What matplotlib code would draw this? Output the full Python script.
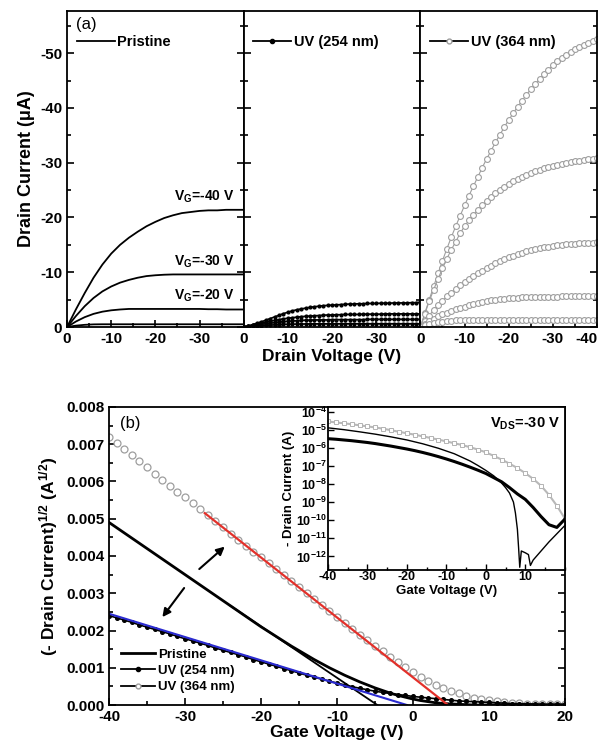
import numpy as np
import matplotlib
matplotlib.use('Agg')
import matplotlib.pyplot as plt
from matplotlib.ticker import MultipleLocator, FormatStrFormatter, FixedLocator, FuncFormatter
from matplotlib.lines import Line2D

plt.rcParams['font.family'] = ['Liberation Sans', 'DejaVu Sans']
plt.rcParams['font.weight'] = 'bold'
plt.rcParams['axes.unicode_minus'] = False
plt.rcParams['mathtext.fontset'] = 'custom'
plt.rcParams['mathtext.rm'] = 'Liberation Sans:bold'
plt.rcParams['mathtext.bf'] = 'Liberation Sans:bold'
plt.rcParams['mathtext.it'] = 'Liberation Sans:bold'
plt.rcParams['axes.linewidth'] = 1.3

# ---- (a) output curves, drain current in uA ----
vd_pr = np.arange(0, -41, -2)
pr_m40 = [0, -3.2, -6.2, -9.0, -11.4, -13.4, -15.0, -16.3, -17.4, -18.4, -19.2,
          -19.9, -20.4, -20.8, -21.0, -21.2, -21.3, -21.3, -21.4, -21.4, -21.4]
pr_m30 = [0, -2.0, -3.8, -5.3, -6.5, -7.4, -8.1, -8.6, -9.0, -9.3, -9.45,
          -9.55, -9.6, -9.6, -9.6, -9.6, -9.6, -9.6, -9.6, -9.6, -9.6]
pr_m20 = [0, -1.0, -1.8, -2.4, -2.8, -3.05, -3.2, -3.3, -3.3, -3.3, -3.3,
          -3.3, -3.3, -3.3, -3.3, -3.3, -3.25, -3.25, -3.2, -3.2, -3.2]
pr_m10 = [0, -0.25, -0.4, -0.48, -0.5, -0.5, -0.5, -0.5, -0.5, -0.5, -0.5,
          -0.5, -0.5, -0.5, -0.5, -0.5, -0.5, -0.5, -0.5, -0.5, -0.5]

vd_uv = np.arange(0, -41, -1)
uv1_a = [0, -0.2, -0.45, -0.7, -0.95, -1.25, -1.55, -1.85, -2.15, -2.45,
         -2.7, -2.95, -3.15, -3.3, -3.45, -3.6, -3.7, -3.8, -3.9, -3.95,
         -4.0, -4.05, -4.1, -4.15, -4.2, -4.2, -4.25, -4.25, -4.3, -4.3,
         -4.3, -4.35, -4.35, -4.35, -4.4, -4.4, -4.4, -4.4, -4.45, -4.45, -4.5]
uv1_b = [0, -0.15, -0.3, -0.5, -0.7, -0.9, -1.05, -1.2, -1.35, -1.5,
         -1.6, -1.7, -1.8, -1.9, -1.95, -2.0, -2.05, -2.1, -2.15, -2.2,
         -2.2, -2.25, -2.25, -2.3, -2.3, -2.3, -2.3, -2.35, -2.35, -2.35,
         -2.35, -2.35, -2.4, -2.4, -2.4, -2.4, -2.4, -2.4, -2.4, -2.4, -2.4]
uv1_c = [0, -0.1, -0.2, -0.35, -0.5, -0.6, -0.7, -0.8, -0.9, -1.0,
         -1.05, -1.1, -1.15, -1.2, -1.25, -1.25, -1.3, -1.3, -1.3, -1.3,
         -1.35, -1.35, -1.35, -1.35, -1.35, -1.35, -1.35, -1.35, -1.4, -1.4,
         -1.4, -1.4, -1.4, -1.4, -1.4, -1.4, -1.4, -1.4, -1.4, -1.4, -1.4]
uv1_d = [0, -0.05, -0.1, -0.18, -0.25, -0.3, -0.35, -0.4, -0.45, -0.48,
         -0.5, -0.52, -0.54, -0.55, -0.56, -0.57, -0.58, -0.58, -0.58, -0.59,
         -0.59, -0.59, -0.6, -0.6, -0.6, -0.6, -0.6, -0.6, -0.6, -0.6,
         -0.6, -0.6, -0.6, -0.6, -0.6, -0.6, -0.6, -0.6, -0.6, -0.6, -0.6]

uv3_a = [0, -2.5, -5.0, -7.4, -9.8, -12.1, -14.3, -16.4, -18.4, -20.3,
         -22.2, -24.0, -25.7, -27.4, -29.1, -30.7, -32.2, -33.7, -35.1, -36.5,
         -37.8, -39.0, -40.2, -41.3, -42.4, -43.4, -44.4, -45.3, -46.2, -47.0,
         -47.8, -48.5, -49.1, -49.7, -50.2, -50.7, -51.1, -51.5, -51.9, -52.2, -52.5]
uv3_b = [0, -2.4, -4.7, -6.8, -8.8, -10.7, -12.5, -14.1, -15.6, -17.1,
         -18.4, -19.5, -20.5, -21.4, -22.2, -23.0, -23.7, -24.4, -25.0, -25.6,
         -26.1, -26.6, -27.0, -27.4, -27.8, -28.1, -28.4, -28.7, -29.0, -29.2,
         -29.4, -29.6, -29.8, -30.0, -30.1, -30.3, -30.4, -30.5, -30.6, -30.7, -30.8]
uv3_c = [0, -1.1, -2.1, -3.1, -4.0, -4.8, -5.6, -6.3, -7.0, -7.6,
         -8.2, -8.8, -9.3, -9.8, -10.3, -10.8, -11.2, -11.6, -12.0, -12.4,
         -12.7, -13.0, -13.3, -13.6, -13.8, -14.0, -14.2, -14.4, -14.6, -14.7,
         -14.8, -14.9, -15.0, -15.1, -15.2, -15.2, -15.3, -15.3, -15.4, -15.4, -15.5]
uv3_d = [0, -0.55, -1.05, -1.5, -1.95, -2.3, -2.65, -3.0, -3.25, -3.5,
         -3.7, -3.95, -4.2, -4.4, -4.6, -4.75, -4.9, -5.0, -5.1, -5.2,
         -5.25, -5.3, -5.35, -5.4, -5.4, -5.45, -5.45, -5.5, -5.5, -5.5,
         -5.55, -5.55, -5.6, -5.6, -5.6, -5.65, -5.65, -5.65, -5.7, -5.7, -5.7]
uv3_e = [0, -0.3, -0.55, -0.75, -0.9, -1.0, -1.1, -1.15, -1.2, -1.2,
         -1.25, -1.25, -1.25, -1.25, -1.25, -1.3, -1.3, -1.3, -1.3, -1.3,
         -1.3, -1.3, -1.3, -1.3, -1.3, -1.3, -1.3, -1.3, -1.3, -1.3,
         -1.35, -1.35, -1.35, -1.35, -1.35, -1.35, -1.35, -1.35, -1.35, -1.35, -1.35]

vg_labels = ['-40', '-30', '-20']
vg_label_y = [-22.3, -10.5, -4.2]

# ---- (b) transfer curves, sqrt(-Id) ----
vg = np.arange(-40, 21, 1)
sq_pristine = [0.00490, 0.00476, 0.00462, 0.00448, 0.00434, 0.00420, 0.00406, 0.00392, 0.00378, 0.00364,
               0.00350, 0.00336, 0.00322, 0.00308, 0.00294, 0.00280, 0.00266, 0.00252, 0.00238, 0.00224,
               0.00210, 0.00197, 0.00184, 0.00171, 0.00158, 0.00146, 0.00134, 0.00122, 0.00111, 0.00100,
               0.00090, 0.00080, 0.00071, 0.00062, 0.00054, 0.00046, 0.00039, 0.00032, 0.00026, 0.00021,
               0.00016, 0.00012, 0.00009, 0.00006, 0.00004, 0.00003, 0.00002, 0.00001, 0.0, 0.0,
               0.0, 0.0, 0.0, 0.0, 0.0, 0.0, 0.0, 0.0, 0.0, 0.0,
               0.0]
sq_uv254 = [0.00240, 0.00234, 0.00228, 0.00222, 0.00215, 0.00209, 0.00203, 0.00197, 0.00191, 0.00184,
            0.00178, 0.00172, 0.00166, 0.00160, 0.00153, 0.00147, 0.00141, 0.00135, 0.00129, 0.00122,
            0.00116, 0.00110, 0.00104, 0.00098, 0.00092, 0.00086, 0.00080, 0.00075, 0.00069, 0.00064,
            0.00059, 0.00054, 0.00049, 0.00045, 0.00041, 0.00037, 0.00034, 0.00031, 0.00028, 0.00026,
            0.00023, 0.00021, 0.00019, 0.00017, 0.00015, 0.00013, 0.00011, 0.00010, 0.00009, 0.00008,
            0.00007, 0.00006, 0.00005, 0.00004, 0.00004, 0.00003, 0.00003, 0.00002, 0.00002, 0.00002,
            0.00002]
sq_uv364 = [0.00718, 0.00702, 0.00686, 0.00670, 0.00654, 0.00638, 0.00621, 0.00605, 0.00589, 0.00573,
            0.00557, 0.00541, 0.00525, 0.00509, 0.00493, 0.00477, 0.00460, 0.00444, 0.00428, 0.00412,
            0.00396, 0.00380, 0.00364, 0.00348, 0.00332, 0.00316, 0.00300, 0.00284, 0.00268, 0.00252,
            0.00236, 0.00220, 0.00205, 0.00189, 0.00174, 0.00159, 0.00144, 0.00129, 0.00115, 0.00101,
            0.00088, 0.00076, 0.00065, 0.00055, 0.00046, 0.00038, 0.00031, 0.00025, 0.00020, 0.00016,
            0.00013, 0.00010, 0.00008, 0.00006, 0.00005, 0.00004, 0.00003, 0.00003, 0.00002, 0.00002,
            0.00002]
fit_pr_x = [-24, -4.7]
fit_pr_y = [0.00266, 0.0]
fit_uv254_x = [-40, -0.8]
fit_uv254_y = [0.00245, 0.0]
fit_uv364_x = [-27.4, 4.6]
fit_uv364_y = [0.00515, 0.0]

# ---- inset: log10(-Id) ----
vg_in = np.arange(-40, 21, 2)
log_uv364 = [-4.55, -4.6, -4.65, -4.7, -4.76, -4.82, -4.88, -4.95, -5.03, -5.12,
             -5.2, -5.28, -5.37, -5.46, -5.55, -5.65, -5.75, -5.85, -5.97, -6.1,
             -6.25, -6.45, -6.65, -6.88, -7.12, -7.4, -7.72, -8.1, -8.6, -9.2,
             -9.9]
log_uv254 = [-5.5, -5.53, -5.57, -5.61, -5.66, -5.71, -5.77, -5.84, -5.91, -5.99,
             -6.07, -6.16, -6.26, -6.37, -6.49, -6.62, -6.76, -6.91, -7.07, -7.24,
             -7.42, -7.65, -7.88, -8.2, -8.55, -8.85, -9.3, -9.8, -10.25, -10.4,
             -9.95]
vg_pr_in = [-40, -36, -32, -28, -24, -20, -16, -12, -8, -4, -2, 0, 2, 4, 5, 6, 7, 7.5, 8,
            8.3, 8.6, 9, 10, 10.8, 11.3, 12, 14, 16, 18, 20]
log_pr_in = [-4.9, -5.0, -5.12, -5.25, -5.4, -5.57, -5.78, -6.03, -6.33, -6.73, -6.98, -7.25,
             -7.55, -7.95, -8.2, -8.5, -9.0, -9.6, -10.5, -11.5, -12.6, -11.7, -11.8, -11.9,
             -12.5, -12.2, -11.7, -11.2, -10.75, -10.3]

gray = '0.62'


def style(ax, right=True):
    ax.tick_params(which='both', direction='in', top=False, right=right,
                   labelsize=11, width=1.2)
    ax.tick_params(which='major', length=5)
    ax.tick_params(which='minor', length=3)


fig = plt.figure(figsize=(6.04, 7.49), dpi=100)

# ---------------- panel (a) ----------------
x0, w, b0, h = 0.111, 0.2925, 0.5634, 0.4219
axes = [fig.add_axes([x0 + i * w, b0, w, h]) for i in range(3)]

for i, ax in enumerate(axes):
    ax.set_xlim(0, -40)
    ax.set_ylim(0, -57.7)
    ax.set_xticks([0, -10, -20, -30, -40])
    if i < 2:
        ax.set_xticklabels(['0', '-10', '-20', '-30', ''])
    else:
        ax.set_xticklabels(['0', '-10', '-20', '-30', '-40'])
        ax.get_xticklabels()[-1].set_horizontalalignment('right')
    ax.xaxis.set_minor_locator(MultipleLocator(5))
    ax.yaxis.set_major_locator(MultipleLocator(10))
    ax.yaxis.set_minor_locator(MultipleLocator(5))
    style(ax)
    if i > 0:
        ax.set_yticklabels([])

a0, a1, a2 = axes
for yy in [pr_m40, pr_m30, pr_m20, pr_m10]:
    a0.plot(vd_pr, yy, color='k', lw=1.3)
for lab, ly in zip(vg_labels, vg_label_y):
    a0.text(-38, ly, r'V$_{\mathbf{G}}$=' + lab + ' V', ha='right', va='bottom',
            fontsize=10, fontweight='bold')
a0.text(-2, -55.3, '(a)', fontsize=12, fontweight='normal', va='center')
a0.legend([Line2D([], [], color='k', lw=1.3)], ['Pristine'], loc='upper left',
          bbox_to_anchor=(-0.02, 0.965), frameon=False, fontsize=10.5,
          handlelength=2.6, handletextpad=0.2)

for yy in [uv1_a, uv1_b, uv1_c, uv1_d]:
    a1.plot(vd_uv, yy, color='k', lw=1.2, marker='o', ms=2.0)
a1.legend([Line2D([], [], color='k', lw=1.3, marker='o', ms=3)], ['UV (254 nm)'],
          loc='upper left', bbox_to_anchor=(-0.02, 0.965), frameon=False,
          fontsize=10.5, handlelength=2.6, handletextpad=0.2)

for yy in [uv3_a, uv3_b, uv3_c, uv3_d, uv3_e]:
    a2.plot(vd_uv, yy, color=gray, lw=0.8, marker='o', ms=4.2, mfc='white',
            mec=gray, mew=0.8)
a2.legend([Line2D([], [], color='k', lw=1.3, marker='o', ms=3.5, mfc='white', mec=gray)],
          ['UV (364 nm)'], loc='upper left', bbox_to_anchor=(-0.02, 0.965),
          frameon=False, fontsize=10.5, handlelength=2.6, handletextpad=0.2)

a0.set_ylabel('Drain Current (\u03bcA)', fontsize=13, fontweight='bold', labelpad=4)
a1.set_xlabel('Drain Voltage (V)', fontsize=12.5, fontweight='bold', labelpad=2)

# ---------------- panel (b) ----------------
axb = fig.add_axes([0.1805, 0.0587, 0.755, 0.398])
axb.set_xlim(-40, 20)
axb.set_ylim(0, 0.008)
axb.xaxis.set_major_locator(MultipleLocator(10))
axb.xaxis.set_minor_locator(MultipleLocator(5))
axb.yaxis.set_major_locator(MultipleLocator(0.001))
axb.yaxis.set_minor_locator(MultipleLocator(0.0005))
axb.yaxis.set_major_formatter(FormatStrFormatter('%.3f'))
style(axb)

axb.plot(vg, sq_uv364, ls='none', marker='o', ms=5, mfc='white', mec=gray, mew=0.9)
axb.plot(vg, sq_uv254, color='k', lw=1.2, marker='o', ms=2.6)
axb.plot(vg, sq_pristine, color='k', lw=2.0)
axb.plot(fit_pr_x, fit_pr_y, color='k', lw=1.3)
axb.plot(fit_uv254_x, fit_uv254_y, color='#2b2bd0', lw=1.5)
axb.plot(fit_uv364_x, fit_uv364_y, color='#e3302a', lw=1.6)

axb.annotate('', xy=(-24.5, 0.0043), xytext=(-28.4, 0.0036),
             arrowprops=dict(arrowstyle='-|>', color='k', lw=1.5, mutation_scale=12))
axb.annotate('', xy=(-33.2, 0.0023), xytext=(-29.9, 0.0032),
             arrowprops=dict(arrowstyle='-|>', color='k', lw=1.5, mutation_scale=12))
axb.text(-38.5, 0.00755, '(b)', fontsize=12, fontweight='normal', va='center')

hb = [Line2D([], [], color='k', lw=2.0),
      Line2D([], [], color='k', lw=1.3, marker='o', ms=3),
      Line2D([], [], color='k', lw=1.3, marker='o', ms=3.5, mfc='white', mec=gray)]
axb.legend(hb, ['Pristine', 'UV (254 nm)', 'UV (364 nm)'], loc='lower left',
           bbox_to_anchor=(0.0, 0.0), frameon=False, fontsize=9.5,
           handlelength=2.6, handletextpad=0.2, labelspacing=0.3)
axb.set_xlabel('Gate Voltage (V)', fontsize=12.5, fontweight='bold', labelpad=1)
axb.set_ylabel(r'(- Drain Current)$^{\mathbf{1/2}}$ (A$^{\mathbf{1/2}}$)',
               fontsize=12.5, fontweight='bold', labelpad=4)

# ---------------- inset ----------------
axi = fig.add_axes([0.543, 0.239, 0.392, 0.2176])
axi.set_xlim(-40, 20)
axi.set_yscale('log')
axi.set_ylim(10 ** -12.75, 10 ** -3.75)
axi.yaxis.set_major_locator(FixedLocator([10.0 ** k for k in range(-12, -3)]))
axi.yaxis.set_minor_locator(FixedLocator([]))
axi.yaxis.set_major_formatter(FuncFormatter(
    lambda v, p: r'$\mathbf{10^{%d}}$' % round(np.log10(v))))
axi.set_xticks([-40, -30, -20, -10, 0, 10])
axi.xaxis.set_minor_locator(MultipleLocator(5))
axi.tick_params(which='both', direction='in', labelsize=9, width=1.0, pad=1)
axi.tick_params(which='major', length=4)
axi.tick_params(which='minor', length=2)

axi.plot(vg_in, 10 ** np.array(log_uv364), color='0.72', lw=1.5, marker='s',
         ms=3.0, mfc='white', mec='0.7', mew=0.7)
axi.plot(vg_in, 10 ** np.array(log_uv254), color='k', lw=2.2)
axi.plot(vg_pr_in, 10 ** np.array(log_pr_in), color='k', lw=1.0)
axi.text(0.98, 0.95, r'V$_{\mathbf{DS}}$=-30 V', transform=axi.transAxes,
         ha='right', va='top', fontsize=10.5, fontweight='bold')
axi.set_xlabel('Gate Voltage (V)', fontsize=9.5, fontweight='bold', labelpad=1)
axi.set_ylabel('- Drain Current (A)', fontsize=9.5, fontweight='bold', labelpad=1)

fig.savefig('out.png', dpi=100)
